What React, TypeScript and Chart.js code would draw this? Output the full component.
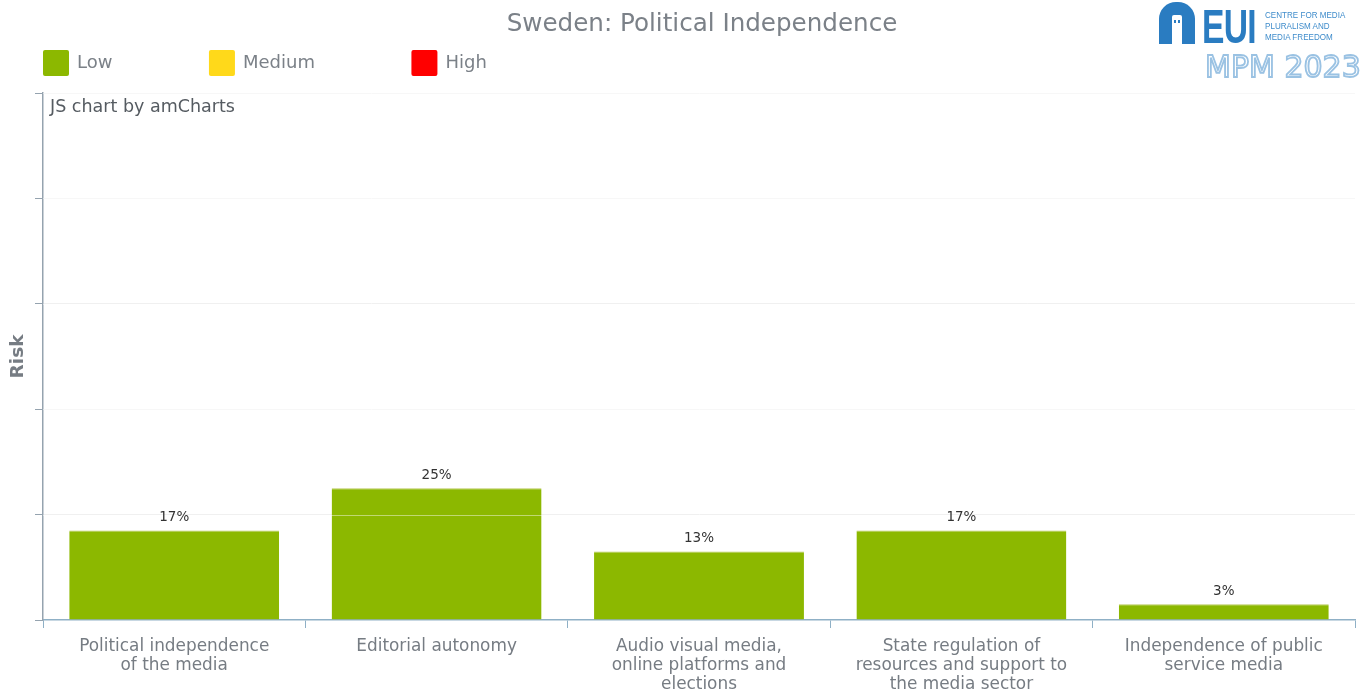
import React, { useEffect, useRef } from "react";
import { Chart, registerables } from "chart.js";

Chart.register(...registerables);

const chartTitle = "Sweden: Political Independence";
const categories: string[][] = [
  ["Political independence", "of the media"],
  ["Editorial autonomy"],
  ["Audio visual media,", "online platforms and", "elections"],
  ["State regulation of", "resources and support to", "the media sector"],
  ["Independence of public", "service media"],
];
const riskValues = [17, 25, 13, 17, 3];
const legendLabels = ["Low", "Medium", "High"];
const legendColors = ["#8cb800", "#ffd91a", "#ff0000"];
const yTicks = [0, 20, 40, 60, 80, 100];

const FONT = "DejaVu Sans";
const TEXT_GRAY = "#7b8188";

const headerPlugin = {
  id: "header",
  afterDraw(chart: any) {
    const ctx = chart.ctx;
    ctx.save();
    ctx.fillStyle = TEXT_GRAY;
    ctx.font = `24.6px "${FONT}"`;
    ctx.textAlign = "center";
    ctx.textBaseline = "middle";
    ctx.fillText(chartTitle, 702, 25);

    ctx.font = `18px "${FONT}"`;
    ctx.textAlign = "left";
    let x = 43;
    legendLabels.forEach((lab, i) => {
      ctx.fillStyle = legendColors[i];
      ctx.beginPath();
      (ctx as any).roundRect(x, 50, 26, 26, 2);
      ctx.fill();
      ctx.fillStyle = TEXT_GRAY;
      ctx.fillText(lab, x + 34, 63);
      x += 34 + ctx.measureText(lab).width + 96.5;
    });

    ctx.font = `17.5px "${FONT}"`;
    ctx.fillStyle = "#555b61";
    ctx.fillText("JS chart by amCharts", 50, 107);
    ctx.restore();
  },
};

const overlayPlugin = {
  id: "overlay",
  afterDatasetsDraw(chart: any) {
    const ctx = chart.ctx;
    const { left, right } = chart.chartArea;
    const yScale = chart.scales.y;
    ctx.save();
    ctx.strokeStyle = "rgba(255,255,255,0.45)";
    ctx.lineWidth = 1;
    yTicks.slice(1).forEach((v) => {
      const y = Math.round(yScale.getPixelForValue(v)) + 0.5;
      ctx.beginPath();
      ctx.moveTo(left, y);
      ctx.lineTo(right, y);
      ctx.stroke();
    });
    const meta = chart.getDatasetMeta(0);
    ctx.fillStyle = "#333333";
    ctx.font = `13.5px "${FONT}"`;
    ctx.textAlign = "center";
    ctx.textBaseline = "alphabetic";
    meta.data.forEach((bar: any, i: number) => {
      ctx.fillText(`${riskValues[i]}%`, bar.x, bar.y - 9);
    });
    ctx.restore();
  },
};

export default function App() {
  const canvasRef = useRef<HTMLCanvasElement | null>(null);

  useEffect(() => {
    const canvas = canvasRef.current;
    if (!canvas) return;
    const chart = new Chart(canvas, {
      type: "bar",
      data: {
        labels: categories,
        datasets: [
          {
            label: "Risk",
            data: riskValues,
            backgroundColor: "#8cb800",
            borderColor: "#b9c85a",
            borderWidth: { top: 1, left: 0, right: 0, bottom: 0 },
            barPercentage: 0.8,
            categoryPercentage: 1.0,
          },
        ],
      },
      options: {
        animation: false,
        responsive: false,
        devicePixelRatio: 1,
        layout: { padding: { top: 93, right: 6, left: 0, bottom: 0 } },
        plugins: {
          legend: { display: false },
          title: { display: false },
          tooltip: { enabled: false },
        },
        scales: {
          x: {
            grid: {
              display: true,
              drawOnChartArea: false,
              drawTicks: true,
              tickLength: 8,
              tickColor: "#8fb0c6",
              offset: true,
            },
            border: { color: "#8fb0c6", width: 1.5 },
            ticks: {
              color: "#767c83",
              font: { family: FONT, size: 16.9, lineHeight: 1.12 },
              padding: 9,
              maxRotation: 0,
              autoSkip: false,
            },
            afterFit: (s: any) => {
              s.height = 71;
            },
          },
          y: {
            min: 0,
            max: 100,
            afterBuildTicks: (s: any) => {
              s.ticks = yTicks.map((v) => ({ value: v }));
            },
            ticks: { display: false },
            grid: {
              color: (c: any) => (c.tick && c.tick.value === 0 ? "rgba(0,0,0,0)" : "#f0f0f0"),
              tickColor: "#95a3af",
              tickLength: 8,
              drawTicks: true,
            },
            border: { color: "#95a3af", width: 1.5 },
            title: {
              display: true,
              text: "Risk",
              color: "#767c83",
              font: { family: FONT, size: 18.5, weight: "bold" },
              padding: { top: 7, bottom: 0 },
            },
            afterFit: (s: any) => {
              s.width = 43;
            },
          },
        },
      },
      plugins: [headerPlugin, overlayPlugin],
    });
    return () => chart.destroy();
  }, []);

  return (
    <div
      style={{
        position: "fixed",
        left: 0,
        top: 0,
        width: 1361,
        height: 691,
        background: "#ffffff",
        overflow: "hidden",
      }}
    >
      <canvas ref={canvasRef} width={1361} height={691} style={{ display: "block" }} />
      <div
        style={{
          position: "absolute",
          left: 1159,
          top: 2,
          width: 36,
          height: 42,
          background: "#2a7cc1",
          borderRadius: "17px 17px 0 0",
        }}
      >
        <div
          style={{
            position: "absolute",
            left: 13,
            top: 13,
            width: 10,
            height: 29,
            background: "#ffffff",
            borderRadius: "2px 2px 0 0",
          }}
        >
          <div style={{ position: "absolute", left: 2, top: 5, width: 2, height: 3, background: "#2a7cc1" }} />
          <div style={{ position: "absolute", left: 6, top: 5, width: 2, height: 3, background: "#2a7cc1" }} />
        </div>
      </div>
      <div
        style={{
          position: "absolute",
          left: 1202,
          top: 3,
          fontFamily: "Liberation Sans",
          fontWeight: "bold",
          fontSize: 48,
          lineHeight: "48px",
          color: "#2a7cc1",
          transform: "scaleX(0.7)",
          transformOrigin: "left top",
          letterSpacing: "-1px",
        }}
      >
        EUI
      </div>
      <div
        style={{
          position: "absolute",
          left: 1265,
          top: 9,
          fontFamily: "Liberation Sans",
          fontSize: 9.5,
          lineHeight: "11px",
          color: "#3f8ccb",
          whiteSpace: "nowrap",
          transform: "scaleX(0.85)",
          transformOrigin: "left top",
        }}
      >
        CENTRE FOR MEDIA
        <br />
        PLURALISM AND
        <br />
        MEDIA FREEDOM
      </div>
      <div
        style={{
          position: "absolute",
          left: 1205,
          top: 49,
          fontFamily: FONT,
          fontSize: 30,
          lineHeight: "36px",
          color: "#ffffff",
          WebkitTextStroke: "1.8px #9ac2e3",
          whiteSpace: "nowrap",
        }}
      >
        MPM 2023
      </div>
    </div>
  );
}
